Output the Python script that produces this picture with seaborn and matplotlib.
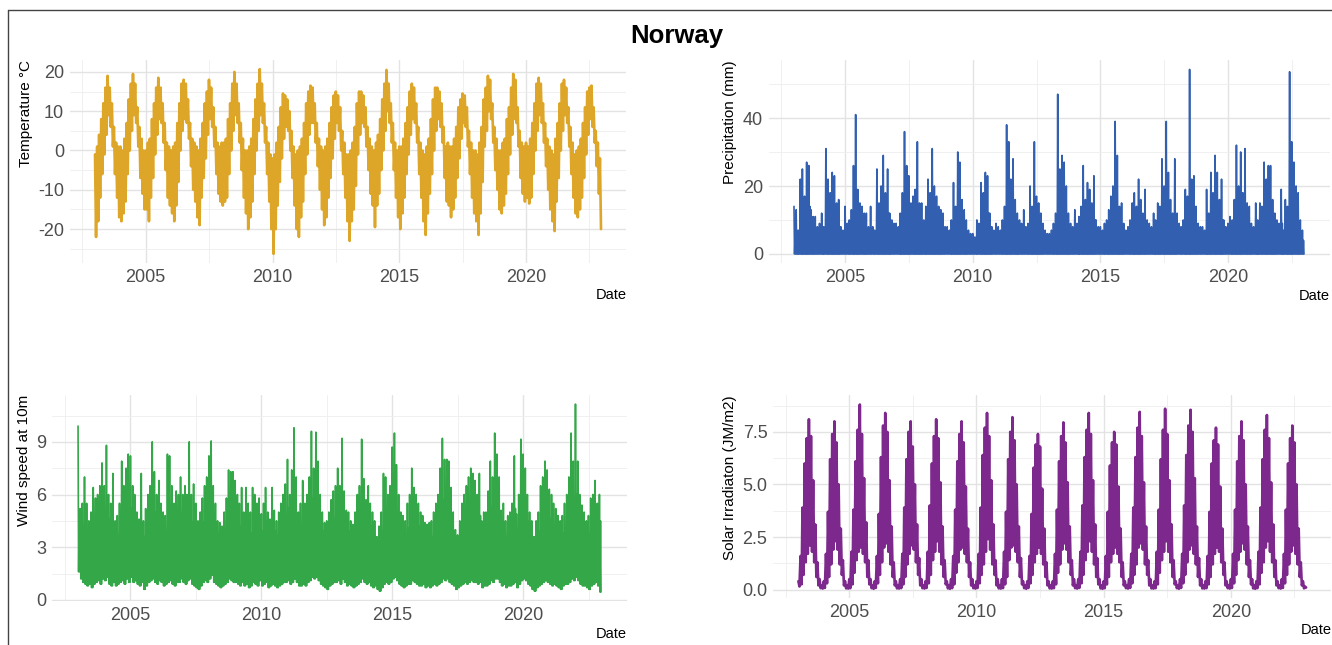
import pandas as pd
import numpy as np
import matplotlib
matplotlib.use('Agg')
import matplotlib.pyplot as plt
import matplotlib.dates as mdates
from matplotlib.ticker import FixedLocator, FormatStrFormatter
from matplotlib.lines import Line2D
import seaborn as sns

months = pd.date_range('2003-01-01', '2022-12-01', freq='MS')

# Temperature (°C): highest / lowest daily value in each month
temp_hi = [
    -1, 1, 4, 8, 12, 16, 19, 16, 12, 6, 2, 1,
    1, 0, 3, 7, 13, 17, 19.5, 17, 11, 6, 3, 0,
    0, 2, 3, 8, 12, 16, 18.5, 16, 12, 7, 2, 1,
    0, 1, 2, 7, 12, 17, 18, 17, 13, 7, 3, 2,
    1, 0, 3, 7, 12, 15, 18, 16, 11, 6, 2, 1,
    2, 2, 3, 8, 12, 17, 20, 17, 12, 7, 3, 0,
    0, 1, 3, 8, 13, 17, 20.7, 17, 12, 6, 2, -1,
    -2, -1, 2, 6, 11, 14.5, 14, 13, 10, 5, 1, -1,
    0, 1, 3, 7, 12, 15, 16.5, 16, 12, 7, 3, 1,
    0, 1, 3, 7, 11, 14, 15, 14, 11, 5, 2, -1,
    -1, 0, 2, 6, 12, 15, 15, 14, 11, 6, 3, 1,
    0, 2, 4, 8, 13, 17, 20.5, 17, 12, 7, 2, 0,
    1, 1, 3, 7, 11, 15, 17, 16, 12, 6, 2, 0,
    -1, 1, 3, 8, 13, 16, 16, 15, 12, 6, 1, 2,
    1, 1, 3, 6, 11, 13, 14.5, 14, 11, 5, 2, 0,
    0, -1, 2, 6, 13, 16, 19, 18, 12, 6, 3, 0,
    0, 2, 3, 8, 11, 16, 19.5, 18, 11, 5, 2, 1,
    2, 1, 3, 7, 12, 17, 18.5, 17, 12, 7, 3, 1,
    0, -1, 3, 7, 12, 17, 18, 16, 11, 6, 2, -1,
    0, 1, 3, 7, 11, 15, 16, 16.5, 11, 5, 2, -2,
]
temp_lo = [
    -22, -18, -12, -6, -1, 4, 9, 6, 1, -6, -12, -17,
    -18, -16, -13, -6, 0, 5, 9, 7, 1, -7, -11, -15,
    -15, -18, -12, -7, -1, 4, 8, 7, 2, -5, -12, -14,
    -16, -18, -14, -8, 0, 5, 8, 7, 3, -4, -10, -13,
    -17, -19, -12, -7, -2, 4, 8, 6, 1, -6, -11, -13,
    -14, -13, -12, -6, 0, 5, 9, 7, 2, -5, -12, -16,
    -20, -17, -13, -6, 0, 5, 9, 7, 2, -6, -13, -20,
    -26.3, -20, -14, -8, -2, 3, 6, 5, 0, -7, -14, -20,
    -22, -17, -13, -6, -1, 4, 7, 7, 2, -4, -10, -15,
    -19, -17, -12, -7, -2, 3, 7, 5, 0, -6, -12, -18,
    -23, -18, -15, -9, -1, 4, 7, 6, 1, -5, -11, -14,
    -19.5, -14, -11, -5, 0, 5, 10, 7, 2, -5, -12, -17,
    -20, -16, -12, -6, -1, 4, 8, 7, 2, -6, -12, -18,
    -21.5, -16, -11, -6, 0, 5, 8, 6, 2, -7, -13, -14,
    -17, -15, -12, -7, -2, 3, 7, 6, 1, -6, -12, -16,
    -18, -21.5, -16, -8, 1, 5, 10, 8, 2, -5, -10, -15,
    -16, -14, -11, -6, -1, 4, 8, 7, 1, -7, -11, -13,
    -12, -13.5, -12, -6, 0, 5, 9, 7, 2, -4, -10, -15,
    -18, -20.5, -13, -7, 0, 5, 9, 7, 1, -6, -12, -16,
    -17, -15, -12, -7, -1, 4, 8, 6, 2, -4, -11, -20,
]

# Precipitation (mm): highest daily value and usual upper level of the dense band
precip_max = [
    14, 13, 7, 22, 25, 17, 27, 26, 13, 11, 11, 8,
    9, 12, 8, 31, 22, 18, 24, 23, 15, 16, 8, 7,
    14, 9, 10, 13, 26, 41, 19, 15, 14, 12, 12, 8,
    14, 8, 7, 25, 15, 20, 29, 18, 25, 12, 10, 9,
    9, 8, 12, 18, 36, 26, 23, 15, 17, 19, 33, 15,
    15, 10, 14, 22, 18, 31, 20, 17, 14, 13, 12, 8,
    8, 7, 10, 21, 14, 30, 27, 16, 13, 10, 7, 6,
    6, 5, 10, 9, 21, 18, 24, 23, 12, 8, 7, 9,
    8, 7, 10, 14, 38, 33, 22, 28, 16, 12, 10, 9,
    13, 8, 9, 20, 14, 33, 17, 15, 12, 9, 7, 6,
    6, 7, 9, 12, 47, 25, 29, 27, 20, 12, 9, 8,
    13, 9, 11, 14, 26, 16, 21, 19, 15, 23, 10, 8,
    8, 7, 9, 10, 13, 17, 20, 39, 29, 14, 15, 9,
    7, 8, 10, 15, 18, 14, 22, 16, 12, 19, 10, 9,
    8, 12, 10, 15, 14, 28, 20, 39, 24, 16, 12, 28,
    12, 9, 8, 10, 19, 17, 54.3, 22, 23, 14, 9, 8,
    8, 7, 19, 12, 24, 18, 29, 24, 16, 22, 10, 8,
    9, 11, 10, 16, 32, 20, 30, 18, 31, 15, 14, 9,
    8, 15, 10, 15, 14, 27, 22, 26, 26, 16, 12, 10,
    9, 19, 7, 16, 14, 53.6, 33, 27, 20, 18, 10, 7,
]
precip_mid = [
    5, 6, 4, 9, 12, 10, 15, 14, 9, 6, 5, 4,
    5, 6, 4, 11, 12, 10, 13, 14, 10, 8, 5, 4,
    6, 4, 5, 7, 11, 14, 12, 9, 8, 7, 6, 4,
    6, 4, 4, 10, 9, 11, 14, 10, 12, 7, 5, 5,
    5, 4, 6, 9, 17, 14, 12, 9, 10, 10, 12, 8,
    7, 5, 7, 11, 9, 14, 12, 10, 8, 7, 6, 4,
    4, 4, 5, 10, 8, 13, 13, 9, 7, 6, 4, 4,
    3, 3, 5, 5, 10, 10, 12, 12, 7, 5, 4, 5,
    4, 4, 5, 8, 16, 15, 12, 13, 9, 7, 5, 5,
    6, 4, 5, 10, 8, 14, 10, 8, 7, 5, 4, 3,
    3, 4, 5, 7, 15, 13, 14, 13, 10, 7, 5, 4,
    6, 5, 6, 8, 12, 9, 11, 10, 8, 10, 5, 4,
    4, 4, 5, 6, 7, 9, 11, 15, 13, 8, 7, 5,
    4, 4, 5, 8, 9, 8, 11, 9, 7, 9, 5, 5,
    4, 6, 5, 8, 8, 13, 11, 15, 12, 8, 6, 11,
    6, 5, 4, 5, 10, 9, 16, 11, 11, 8, 5, 4,
    4, 4, 9, 6, 11, 10, 13, 12, 9, 10, 5, 4,
    5, 6, 5, 8, 14, 10, 13, 10, 13, 8, 7, 5,
    4, 8, 5, 8, 8, 12, 11, 12, 12, 8, 6, 5,
    5, 9, 4, 8, 7, 16, 14, 13, 10, 9, 5, 4,
]
precip_min = [0] * len(precip_max)

# Wind speed at 10m: monthly maximum, usual upper level, minimum
wind_hi = [
    9.9, 5.2, 5.5, 7.0, 5.5, 4.5, 5.0, 6.4, 5.8, 6.0, 6.5, 7.8,
    6.5, 8.8, 6.0, 5.5, 7.2, 4.5, 4.8, 5.5, 7.9, 6.5, 7.5, 8.3,
    8.2, 6.5, 6.0, 5.0, 4.6, 7.2, 4.5, 5.2, 6.0, 6.5, 9.0, 7.3,
    6.0, 6.8, 5.5, 5.0, 4.8, 8.3, 8.2, 6.5, 5.5, 6.2, 6.0, 7.0,
    6.0, 6.5, 6.0, 9.0, 6.0, 6.6, 5.5, 4.5, 5.0, 5.8, 6.5, 7.0,
    8.2, 9.05, 6.5, 5.5, 4.5, 4.4, 4.2, 5.0, 5.8, 7.4, 7.3, 7.3,
    6.8, 6.0, 5.5, 6.4, 5.0, 6.4, 5.5, 5.0, 6.4, 6.0, 5.5, 5.8,
    4.9, 5.5, 6.4, 5.0, 4.6, 6.4, 5.1, 4.5, 5.0, 5.5, 6.0, 6.6,
    8.0, 6.0, 7.4, 9.8, 7.0, 5.0, 5.5, 6.8, 5.5, 6.0, 7.0, 9.6,
    7.5, 9.55, 7.9, 6.0, 5.0, 4.4, 4.5, 5.0, 5.7, 6.2, 6.5, 7.5,
    6.5, 9.2, 6.2, 5.1, 5.0, 4.5, 4.3, 5.0, 6.0, 6.5, 9.15, 6.9,
    5.7, 6.5, 5.5, 5.0, 4.5, 3.6, 4.2, 5.0, 7.2, 7.0, 6.0, 6.5,
    8.7, 9.5, 7.7, 6.0, 5.0, 4.8, 4.5, 5.5, 6.0, 7.5, 6.4, 6.0,
    5.5, 5.0, 4.8, 4.4, 4.3, 4.4, 4.5, 5.0, 5.5, 6.0, 7.5, 9.2,
    8.0, 8.0, 7.9, 6.4, 5.0, 4.0, 3.7, 4.5, 5.5, 6.0, 6.5, 7.0,
    7.5, 7.2, 6.8, 6.0, 7.2, 4.5, 5.0, 5.0, 6.2, 7.9, 7.0, 9.5,
    8.3, 7.0, 5.1, 5.5, 4.5, 4.8, 5.0, 5.5, 8.2, 4.9, 6.0, 9.15,
    8.3, 7.5, 6.0, 5.0, 4.5, 3.6, 4.5, 5.0, 6.5, 7.0, 7.9, 7.4,
    6.3, 6.0, 5.5, 5.2, 4.8, 4.5, 4.8, 5.5, 6.0, 7.0, 9.5, 7.9,
    11.15, 7.9, 6.0, 5.4, 5.0, 4.5, 4.8, 5.8, 6.0, 6.8, 5.5, 6.0,
]
wind_mid = [
    4.8, 4.0, 4.2, 4.6, 4.0, 3.6, 3.8, 4.2, 4.4, 4.6, 4.8, 5.2,
    5.0, 5.4, 4.6, 4.2, 4.4, 3.6, 3.7, 4.0, 4.8, 4.9, 5.0, 5.5,
    5.2, 4.8, 4.5, 4.0, 3.8, 4.4, 3.6, 3.9, 4.4, 4.8, 5.4, 5.0,
    4.6, 4.9, 4.3, 4.0, 3.8, 4.6, 4.5, 4.2, 4.1, 4.6, 4.5, 4.9,
    4.5, 4.7, 4.6, 5.2, 4.4, 4.3, 4.0, 3.6, 3.9, 4.4, 4.8, 5.0,
    5.3, 5.6, 4.8, 4.2, 3.7, 3.5, 3.4, 3.8, 4.3, 5.0, 5.0, 5.1,
    4.8, 4.5, 4.2, 4.5, 3.9, 4.3, 4.0, 3.8, 4.5, 4.4, 4.1, 4.3,
    3.9, 4.1, 4.5, 3.9, 3.6, 4.4, 3.9, 3.6, 3.8, 4.1, 4.4, 4.7,
    5.2, 4.5, 5.0, 5.6, 4.8, 3.9, 4.0, 4.6, 4.1, 4.5, 5.0, 5.8,
    5.2, 5.7, 5.2, 4.5, 3.9, 3.5, 3.6, 3.9, 4.2, 4.6, 4.8, 5.2,
    4.8, 5.6, 4.6, 4.0, 3.9, 3.6, 3.5, 3.9, 4.4, 4.7, 5.6, 4.9,
    4.3, 4.7, 4.2, 3.9, 3.6, 3.1, 3.4, 3.9, 4.9, 4.9, 4.5, 4.7,
    5.5, 5.8, 5.1, 4.4, 3.9, 3.7, 3.6, 4.1, 4.4, 5.0, 4.7, 4.5,
    4.2, 4.0, 3.8, 3.6, 3.5, 3.6, 3.6, 3.9, 4.2, 4.5, 5.1, 5.7,
    5.4, 5.3, 5.2, 4.6, 3.9, 3.3, 3.1, 3.6, 4.2, 4.5, 4.7, 5.0,
    5.1, 5.0, 4.8, 4.4, 4.8, 3.6, 3.9, 3.9, 4.5, 5.2, 4.9, 5.8,
    5.5, 5.0, 4.0, 4.1, 3.6, 3.8, 3.9, 4.2, 5.2, 4.0, 4.5, 5.7,
    5.5, 5.2, 4.5, 4.0, 3.6, 3.1, 3.6, 3.9, 4.6, 5.0, 5.2, 5.1,
    4.6, 4.5, 4.2, 4.0, 3.8, 3.6, 3.8, 4.1, 4.4, 4.9, 5.8, 5.3,
    6.0, 5.3, 4.5, 4.1, 3.9, 3.6, 3.8, 4.3, 4.4, 4.8, 4.2, 4.5,
]
wind_lo = [
    1.6, 1.2, 1.0, 0.9, 0.8, 0.9, 0.7, 0.9, 1.0, 1.1, 0.9, 1.2,
    1.1, 1.3, 0.9, 0.8, 1.0, 0.8, 0.9, 1.0, 1.1, 0.9, 1.2, 1.0,
    1.3, 1.0, 1.1, 0.9, 0.8, 1.0, 0.6, 0.8, 1.0, 1.1, 1.2, 1.0,
    0.9, 1.1, 1.0, 0.8, 0.9, 1.0, 1.1, 0.9, 0.8, 1.0, 1.0, 1.2,
    1.0, 0.9, 1.1, 1.2, 0.9, 0.8, 0.7, 0.6, 0.8, 1.0, 1.1, 1.0,
    1.2, 1.4, 1.0, 0.9, 0.8, 0.7, 0.8, 0.9, 1.0, 1.2, 1.1, 1.0,
    1.0, 0.9, 0.8, 1.0, 0.8, 0.9, 0.7, 0.8, 1.0, 0.9, 0.8, 1.1,
    0.8, 0.9, 1.0, 0.7, 0.8, 0.9, 0.8, 0.7, 0.8, 0.9, 1.0, 1.0,
    1.1, 0.9, 1.0, 1.2, 1.0, 0.8, 0.8, 0.9, 0.8, 1.0, 1.1, 1.3,
    1.2, 1.3, 1.1, 0.9, 0.8, 0.7, 0.6, 0.8, 0.9, 1.0, 1.0, 1.1,
    0.9, 1.2, 1.0, 0.8, 0.9, 0.8, 0.7, 0.8, 0.9, 1.0, 1.2, 1.0,
    0.9, 1.0, 0.8, 0.7, 0.8, 0.6, 0.5, 0.7, 0.9, 1.0, 0.9, 1.0,
    1.2, 1.3, 1.1, 0.9, 0.8, 0.7, 0.8, 0.9, 0.9, 1.1, 1.0, 0.9,
    0.8, 0.8, 0.9, 0.7, 0.8, 0.7, 0.8, 0.9, 0.8, 0.9, 1.0, 1.2,
    1.1, 1.2, 1.0, 0.9, 0.8, 0.6, 0.7, 0.8, 0.9, 1.0, 0.9, 1.0,
    1.1, 1.0, 1.0, 0.9, 1.0, 0.7, 0.8, 0.8, 0.9, 1.1, 1.0, 1.2,
    1.2, 1.0, 0.8, 0.9, 0.7, 0.8, 0.8, 0.9, 1.0, 0.7, 0.9, 1.1,
    1.2, 1.1, 0.9, 0.8, 0.6, 0.5, 0.7, 0.8, 0.9, 1.0, 1.1, 1.0,
    0.9, 0.8, 0.9, 0.8, 0.7, 0.6, 0.8, 0.9, 0.9, 1.0, 1.2, 1.1,
    1.3, 1.1, 0.9, 0.8, 0.8, 0.7, 0.6, 0.8, 0.9, 1.0, 0.8, 0.45,
]

# Solar irradiation (JM/m2): monthly highest / lowest daily value
solar_hi = [
    0.4, 1.6, 3.9, 6.0, 7.2, 8.1, 7.3, 5.2, 3.1, 1.3, 0.5, 0.2,
    0.4, 1.7, 3.7, 6.2, 7.4, 8.0, 7.0, 5.0, 2.9, 1.4, 0.4, 0.2,
    0.5, 1.8, 3.8, 6.1, 7.6, 8.8, 7.4, 5.3, 3.2, 1.4, 0.5, 0.2,
    0.4, 1.6, 3.6, 6.3, 7.8, 8.4, 7.5, 5.2, 3.0, 1.3, 0.4, 0.2,
    0.5, 1.7, 3.9, 6.2, 7.5, 8.0, 6.8, 5.0, 3.1, 1.5, 0.5, 0.2,
    0.4, 1.8, 4.0, 6.0, 7.3, 8.1, 7.2, 5.1, 3.0, 1.4, 0.4, 0.2,
    0.5, 1.6, 3.8, 6.1, 7.4, 8.0, 7.0, 4.9, 2.9, 1.3, 0.5, 0.2,
    0.4, 1.7, 3.9, 6.4, 7.7, 8.4, 7.3, 5.2, 3.1, 1.4, 0.5, 0.2,
    0.5, 1.8, 3.7, 6.2, 7.5, 8.2, 7.1, 5.0, 3.0, 1.5, 0.4, 0.2,
    0.4, 1.6, 3.6, 5.8, 6.9, 7.4, 6.8, 4.8, 2.9, 1.3, 0.4, 0.2,
    0.4, 1.7, 3.8, 6.1, 7.3, 7.95, 7.0, 5.1, 3.0, 1.4, 0.5, 0.2,
    0.5, 1.8, 4.0, 6.3, 7.6, 8.4, 7.4, 5.2, 3.1, 1.5, 0.5, 0.2,
    0.4, 1.6, 3.7, 5.9, 7.0, 7.5, 6.9, 4.9, 2.9, 1.3, 0.4, 0.2,
    0.5, 1.7, 3.9, 6.3, 7.7, 8.45, 7.3, 5.1, 3.0, 1.4, 0.5, 0.2,
    0.4, 1.8, 3.8, 6.2, 7.6, 8.6, 7.4, 5.2, 3.1, 1.4, 0.4, 0.2,
    0.5, 1.7, 4.0, 6.4, 7.8, 8.55, 7.5, 5.3, 3.0, 1.5, 0.5, 0.2,
    0.4, 1.6, 3.7, 6.0, 7.1, 7.7, 6.9, 4.9, 2.9, 1.3, 0.4, 0.2,
    0.5, 1.7, 3.8, 6.1, 7.3, 8.0, 7.1, 5.0, 3.0, 1.4, 0.5, 0.2,
    0.4, 1.8, 3.9, 6.2, 7.6, 8.3, 7.2, 5.1, 3.1, 1.4, 0.4, 0.2,
    0.5, 1.7, 3.8, 6.0, 7.2, 7.8, 7.0, 5.0, 2.9, 1.3, 0.4, 0.15,
]
solar_lo = [
    0.15, 0.25, 0.7, 1.3, 1.7, 2.1, 1.8, 1.3, 0.6, 0.2, 0.07, 0.05,
    0.08, 0.3, 0.6, 1.2, 1.9, 2.3, 1.9, 1.2, 0.7, 0.2, 0.06, 0.05,
    0.07, 0.25, 0.8, 1.4, 1.8, 2.0, 1.7, 1.3, 0.6, 0.25, 0.07, 0.04,
    0.08, 0.3, 0.7, 1.3, 2.0, 2.2, 1.8, 1.2, 0.6, 0.2, 0.06, 0.05,
    0.07, 0.25, 0.6, 1.2, 1.7, 2.1, 1.9, 1.3, 0.7, 0.2, 0.07, 0.05,
    0.08, 0.3, 0.7, 1.4, 1.8, 2.3, 1.8, 1.2, 0.6, 0.25, 0.06, 0.04,
    0.07, 0.25, 0.8, 1.3, 1.9, 2.0, 1.7, 1.3, 0.6, 0.2, 0.07, 0.05,
    0.08, 0.3, 0.7, 1.2, 1.8, 2.4, 1.9, 1.2, 0.7, 0.2, 0.06, 0.05,
    0.07, 0.25, 0.6, 1.4, 2.0, 2.1, 1.8, 1.3, 0.6, 0.25, 0.07, 0.04,
    0.08, 0.3, 0.7, 1.3, 1.7, 2.0, 1.7, 1.2, 0.6, 0.2, 0.06, 0.05,
    0.07, 0.25, 0.8, 1.2, 1.9, 2.2, 1.9, 1.3, 0.7, 0.2, 0.07, 0.05,
    0.08, 0.3, 0.7, 1.4, 1.8, 2.3, 1.8, 1.2, 0.6, 0.25, 0.06, 0.04,
    0.07, 0.25, 0.6, 1.3, 1.7, 2.0, 1.7, 1.3, 0.6, 0.2, 0.07, 0.05,
    0.08, 0.3, 0.7, 1.2, 2.0, 2.2, 1.9, 1.2, 0.7, 0.2, 0.06, 0.05,
    0.07, 0.25, 0.8, 1.4, 1.8, 2.3, 1.8, 1.3, 0.6, 0.25, 0.07, 0.04,
    0.08, 0.3, 0.7, 1.3, 1.9, 2.1, 1.7, 1.2, 0.6, 0.2, 0.06, 0.05,
    0.07, 0.25, 0.6, 1.2, 1.7, 2.0, 1.8, 1.3, 0.7, 0.2, 0.07, 0.05,
    0.08, 0.3, 0.7, 1.4, 1.8, 2.2, 1.9, 1.2, 0.6, 0.25, 0.06, 0.04,
    0.07, 0.25, 0.8, 1.3, 2.0, 2.3, 1.8, 1.3, 0.6, 0.2, 0.07, 0.05,
    0.08, 0.3, 0.7, 1.2, 1.8, 2.1, 1.7, 1.2, 0.6, 0.2, 0.06, 0.1,
]

W, H = 1332, 645


def monthly_points(*levels):
    """Spread the monthly levels evenly inside each month, in the order given."""
    dates, values = [], []
    n = len(levels)
    for i, m in enumerate(months):
        for k, lev in enumerate(levels):
            dates.append(m + pd.Timedelta(days=30.4 * k / n))
            values.append(lev[i])
    return pd.DataFrame({'Date': dates, 'value': values})


def box(left, top, right, bottom):
    # pixel box -> figure fraction
    return [left / W, 1 - bottom / H, (right - left) / W, (bottom - top) / H]


def style(ax, ylabel, major, minor, fmt):
    ax.set_ylabel(ylabel, loc='top', fontsize=11, color='black', labelpad=4)
    ax.set_xlabel('Date', loc='right', fontsize=10.5, color='black', labelpad=2)
    ax.xaxis.set_major_locator(mdates.YearLocator(5))
    ax.xaxis.set_major_formatter(mdates.DateFormatter('%Y'))
    ax.xaxis.set_minor_locator(FixedLocator(
        mdates.date2num([pd.Timestamp(y, 7, 2) for y in range(2002, 2025, 5)])))
    ax.yaxis.set_major_locator(FixedLocator(major))
    ax.yaxis.set_minor_locator(FixedLocator(minor))
    ax.yaxis.set_major_formatter(FormatStrFormatter(fmt))
    ax.grid(which='major', color='#E3E3E3', lw=1.0)
    ax.grid(which='minor', color='#EEEEEE', lw=0.6)
    ax.set_axisbelow(True)
    ax.tick_params(which='both', length=0, labelsize=13, labelcolor='#4D4D4D')
    ax.tick_params(axis='x', pad=4)
    ax.tick_params(axis='y', pad=4)
    for s in ax.spines.values():
        s.set_visible(False)


def main():
    sns.set_theme(style='whitegrid')
    plt.rcParams['font.family'] = ['Liberation Sans', 'DejaVu Sans']
    plt.rcParams['axes.unicode_minus'] = False

    fig = plt.figure(figsize=(W / 100, H / 100), dpi=100)
    fig.patch.set_facecolor('white')

    panels = [
        (box(69.7, 59.9, 626.3, 263.1), monthly_points(temp_hi, temp_lo),
         '#DEA628', 1.9, 'Temperature °C', [-20, -10, 0, 10, 20], [-25, -15, -5, 5, 15], '%d'),
        (box(768.5, 60.2, 1329.5, 263.2), monthly_points(precip_max, precip_min, precip_mid, precip_min),
         '#325FAF', 1.2, 'Precipitation (mm)', [0, 20, 40], [10, 30, 50], '%d'),
        (box(51.9, 394.7, 627.2, 601.4), monthly_points(wind_hi, wind_lo, wind_mid, wind_lo),
         '#34A848', 1.2, 'Wind speed at 10m', [0, 3, 6, 9], [1.5, 4.5, 7.5, 10.5], '%d'),
        (box(773, 395.3, 1331.5, 598), monthly_points(solar_hi, solar_lo),
         '#7D288C', 1.9, 'Solar Irradiaton (JM/m2)', [0, 2.5, 5, 7.5], [1.25, 3.75, 6.25, 8.75], '%.1f'),
    ]

    for rect, df, color, lw, ylabel, major, minor, fmt in panels:
        ax = fig.add_axes(rect)
        sns.lineplot(data=df, x='Date', y='value', color=color, lw=lw,
                     estimator=None, sort=False, ax=ax)
        ax.margins(x=0.05, y=0.05)
        style(ax, ylabel, major, minor, fmt)

    fig.text(677 / W, 1 - 36 / H, 'Norway', ha='center', va='center',
             fontsize=18.5, fontweight='bold', color='black')

    # frame of the original page
    fig.add_artist(Line2D([8 / W, 8 / W], [0, 1 - 10 / H], color='#444444', lw=1,
                          transform=fig.transFigure))
    fig.add_artist(Line2D([8 / W, 1], [1 - 10 / H, 1 - 10 / H], color='#444444', lw=1,
                          transform=fig.transFigure))

    fig.savefig('out.png', dpi=100)


if __name__ == "__main__":
    main()
